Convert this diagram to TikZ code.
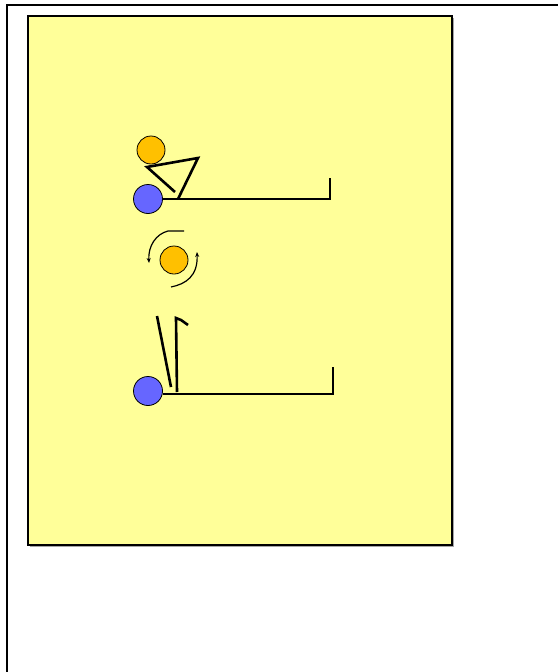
\documentclass[tikz,border=0pt]{standalone}
\usetikzlibrary{arrows.meta}
\definecolor{court}{HTML}{FFFF99}
\definecolor{ballor}{HTML}{FFC000}
\definecolor{playerbl}{HTML}{6666FF}
\tikzset{
  ball/.style={circle,draw=black,line width=0.8pt,fill=ballor,minimum size=28pt,inner sep=0pt},
  player/.style={circle,draw=black,line width=0.8pt,fill=playerbl,minimum size=29pt,inner sep=0pt},
  mv/.style={draw=black,line width=2.6pt},
  spin/.style={draw=black,line width=1.2pt,-{Stealth[length=5pt,width=4pt]}}
}
\begin{document}
\begin{tikzpicture}[x=1pt,y=-1pt]
\useasboundingbox (0,0) rectangle (558,672);
\fill[white] (0,0) rectangle (558,672);
% outer frame
\draw[black,line width=1.6pt] (7,672) -- (7,5) -- (558,5);
% court
\fill[gray!70] (30,18) rectangle (454,547);
\draw[fill=court,line width=1.2pt] (28,16) rectangle (452,545);
% top group
\node[ball] (b1) at (151,150) {};
\node[player] (p1) at (148,199) {};
\coordinate (t1) at (147,167);
\coordinate (t2) at (198,158);
\coordinate (t3) at (178,199);
\coordinate (t4) at (175,192);
\coordinate (e1) at (330,199);
\coordinate (e2) at (330,178);
\draw[mv,line join=miter] (t4) -- (t1) -- (t2) -- (t3);
\draw[mv] (p1.east) -- (e1) -- (e2);
% middle ball with spin arrows
\node[ball] (b2) at (174,260) {};
\coordinate (s1) at (184,231);
\coordinate (s2) at (149,263);
\draw[spin] (s1) -- (168,231) .. controls (156,234) and (148,246) .. (s2);
\coordinate (r1) at (171,287);
\coordinate (r2) at (197,252);
\draw[spin] (r1) .. controls (186,284) and (198,276) .. (r2);
% bottom group
\node[player] (p2) at (148,391) {};
\coordinate (f1) at (333,394);
\coordinate (f2) at (333,367);
\draw[mv] (p2.east |- f1) -- (f1) -- (f2);
\coordinate (l1) at (157,316);
\coordinate (l2) at (171,387);
\draw[mv] (l1) -- (l2);
\coordinate (v1) at (177,392);
\coordinate (v2) at (176,318);
\coordinate (v3) at (188,325);
\draw[mv,line join=miter] (v1) -- (v2) -- (181,320) -- (v3);
\end{tikzpicture}
\end{document}
